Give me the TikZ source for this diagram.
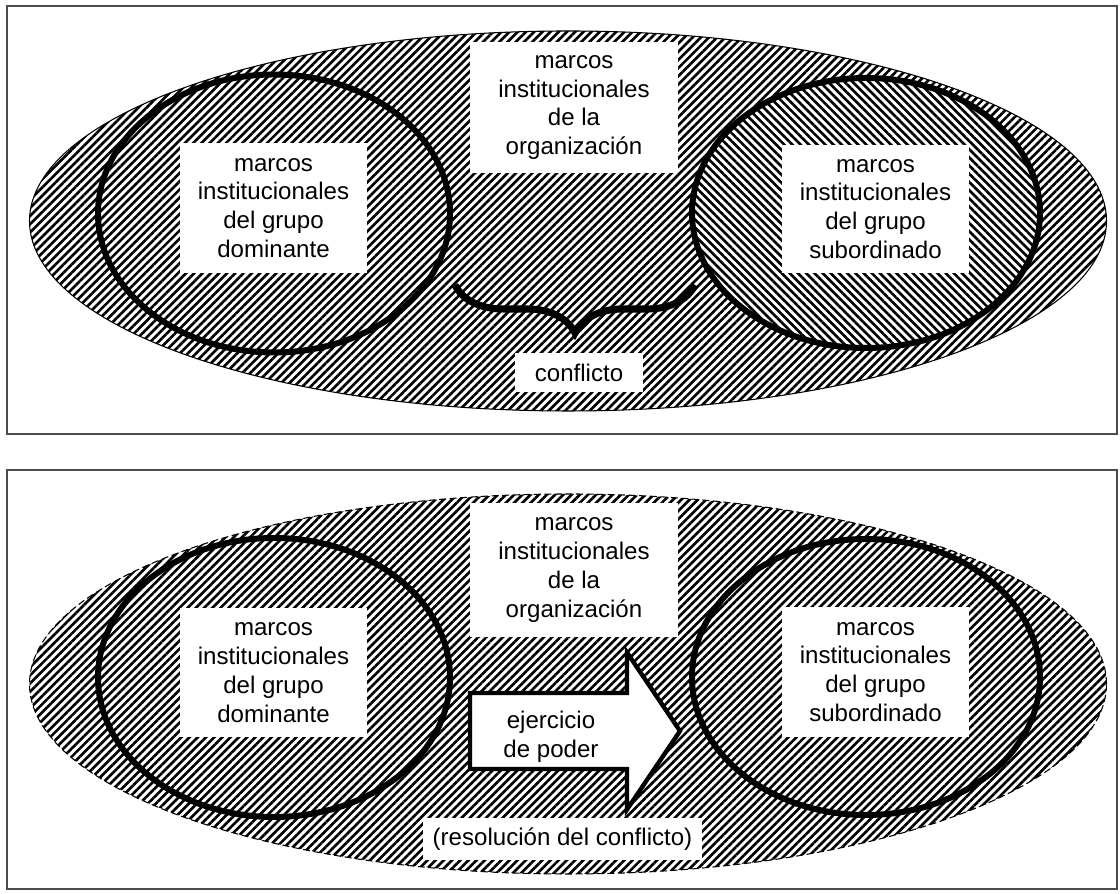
\documentclass[tikz,border=0pt]{standalone}
\usepackage{fontspec}
\setmainfont{Liberation Sans}
\usetikzlibrary{shapes.geometric, patterns.meta, decorations.pathreplacing, positioning}

\begin{document}
\begin{tikzpicture}[font=\fontsize{13.7}{16.4}\selectfont]
  \tikzset{
    marco_panel/.style={draw=black!70, line width=1pt},
    org_ellipse/.style={ellipse, draw, line width=0.6pt, minimum width=21.54cm, minimum height=7.6cm,
      pattern={Lines[angle=45, distance=3.3pt, line width=1.5pt]}},
    grupo_circle/.style={ellipse, draw, line width=3.4pt, inner sep=0pt},
    sub_hatch/.style={preaction={fill=white}, pattern={Lines[angle=-45, distance=3.3pt, line width=1.5pt]}},
    texto_box/.style={fill=white, align=center, inner sep=0pt},
    llave/.style={decorate, decoration={brace, mirror, amplitude=0.96cm}, line width=4pt},
    flecha_poder/.style={draw, fill=white, line width=2.5pt, line join=miter}
  }

  \useasboundingbox (0,0) rectangle (22.4,17.88);

  % Panel superior: conflicto
  \draw[marco_panel] (0.14,9.2) rectangle (22.34,17.76);

  \node[org_ellipse] (org_a) at (11.36,13.46) {};
  \node[grupo_circle, minimum width=7.04cm, minimum height=5.56cm] (dom_a) at (5.48,13.61) {};
  \node[grupo_circle, sub_hatch, minimum width=6.96cm, minimum height=5.4cm] (sub_a) at (17.32,13.62) {};

  % Etiquetas
  \node[texto_box, minimum width=3.74cm, minimum height=2.6cm] (txt_dom_a) at (5.47,13.72) {marcos\\institucionales\\del grupo\\dominante};
  \node[texto_box, minimum width=3.74cm, minimum height=2.56cm] (txt_sub_a) at (17.51,13.7) {marcos\\institucionales\\del grupo\\subordinado};
  \node[texto_box, minimum width=4.16cm, minimum height=2.62cm] (txt_org_a) at (11.48,15.73) {marcos\\institucionales\\de la\\organización};

  % Llave del conflicto
  \coordinate (llave_izq) at (9.1,12.18);
  \coordinate (llave_der) at (13.9,12.18);
  \draw[llave] (llave_izq) -- (llave_der);
  \node[texto_box, minimum width=2.56cm, minimum height=0.78cm] (conflicto) at (11.58,10.43) {conflicto};

  % Panel inferior: resolución
  \draw[marco_panel] (0.14,0.1) rectangle (22.34,8.48);

  \node[org_ellipse, draw=none] (org_b) at (11.36,4.2) {};
  \draw[dash pattern=on 4pt off 2pt, line width=0.6pt] (org_b.center) ellipse [x radius=10.77cm, y radius=3.8cm];
  \node[grupo_circle, minimum width=7.04cm, minimum height=5.58cm] (dom_b) at (5.48,4.33) {};
  \node[grupo_circle, minimum width=6.96cm, minimum height=5.52cm] (sub_b) at (17.32,4.34) {};

  % Etiquetas
  \node[texto_box, minimum width=3.74cm, minimum height=2.58cm] (txt_dom_b) at (5.47,4.43) {marcos\\institucionales\\del grupo\\dominante};
  \node[texto_box, minimum width=3.74cm, minimum height=2.6cm] (txt_sub_b) at (17.51,4.44) {marcos\\institucionales\\del grupo\\subordinado};
  \node[texto_box, minimum width=4.16cm, minimum height=2.68cm] (txt_org_b) at (11.48,6.48) {marcos\\institucionales\\de la\\organización};

  % Flecha de ejercicio de poder
  \coordinate (flecha_cola) at (9.4,3.26);
  \draw[flecha_poder] (flecha_cola) ++(0,0.76) -- ++(3.14,0) -- ++(0,0.81) -- ++(1.06,-1.57)
    -- ++(-1.06,-1.57) -- ++(0,0.81) -- ++(-3.14,0) -- cycle;
  \node[align=center, inner sep=0pt] (poder) at (11.02,3.14) {ejercicio\\de poder};

  \node[texto_box, minimum width=5.58cm, minimum height=0.84cm] (resolucion) at (11.25,1.1) {(resolución del conflicto)};
\end{tikzpicture}
\end{document}
